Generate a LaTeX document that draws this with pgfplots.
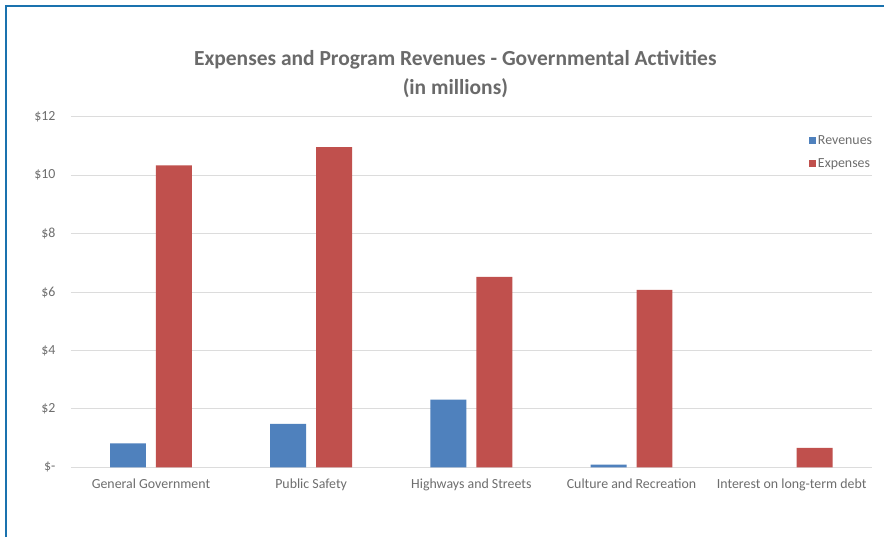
\documentclass[border=0pt]{standalone}
\usepackage{pgfplots}
\pgfplotsset{compat=1.18}
\usepackage{fontspec}
\setmainfont{Carlito}
\definecolor{revblue}{HTML}{4F81BD}
\definecolor{expred}{HTML}{C0504D}
\definecolor{txtgray}{HTML}{6E6E6E}
\definecolor{titlegray}{HTML}{6A6A6A}
\definecolor{gridgray}{HTML}{DCDCDC}
\definecolor{framebl}{HTML}{1A72AE}
\begin{document}
\begin{tikzpicture}[x=1pt,y=1pt]
\path[fill=white] (0,0) rectangle (885,538);
\draw[framebl, line width=2.5pt] (6,0) -- (6,532) -- (885,532);
\node[titlegray, font=\fontsize{21.5}{25}\selectfont\bfseries] at (456,478) {Expenses and Program Revenues - Governmental Activities};
\node[titlegray, font=\fontsize{21.5}{25}\selectfont\bfseries] at (456,450) {(in millions)};
\begin{axis}[
    at={(71pt,70pt)}, anchor=south west,
    scale only axis, width=802pt, height=351pt,
    xmin=-0.5, xmax=4.5, ymin=0, ymax=12,
    axis line style={draw=none},
    major tick length=0pt,
    ymajorgrids=true,
    major grid style={gridgray, line width=1pt},
    ytick={0,2,4,6,8,10,12},
    yticklabels={\$-,\$2,\$4,\$6,\$8,\$10,\$12},
    xtick={0,1,2,3,4},
    xticklabels={General Government,Public Safety,Highways and Streets,Culture and Recreation,Interest on long-term debt},
    ticklabel style={txtgray, font=\fontsize{13.9}{16}\selectfont},
    yticklabel style={xshift=-12pt},
    xticklabel style={yshift=-8pt},
    legend style={draw=none, fill=none, at={(0.917,0.958)}, anchor=north west,
        font=\fontsize{13.9}{16}\selectfont, text=txtgray,
        row sep=8pt, nodes={inner sep=2pt}},
    legend cell align=left,
    legend image code/.code={\path[#1] (0pt,-3.5pt) rectangle (7.5pt,3.5pt);},
]
\addplot[ybar, bar width=36pt, bar shift=-23pt, fill=revblue, draw=none]
    coordinates {(0,0.82) (1,1.49) (2,2.32) (3,0.09)};
\addplot[ybar, bar width=36pt, bar shift=23pt, fill=expred, draw=none]
    coordinates {(0,10.34) (1,10.96) (2,6.52) (3,6.08) (4,0.67)};
\legend{Revenues, Expenses}
\end{axis}
\end{tikzpicture}
\end{document}
